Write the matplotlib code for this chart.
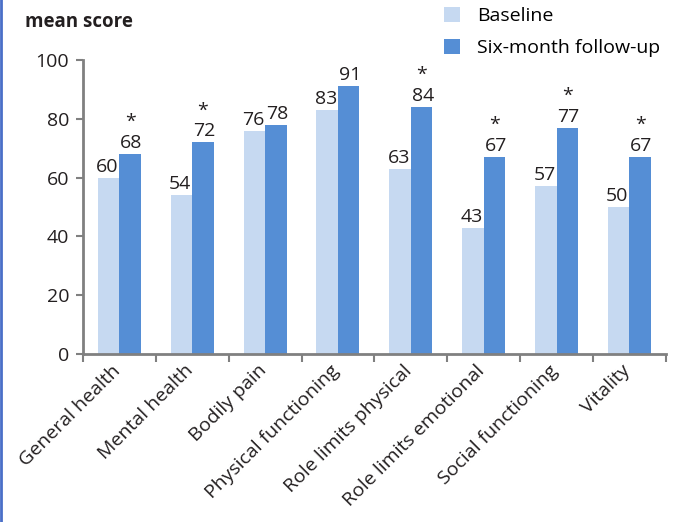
import numpy as np
import matplotlib.pyplot as plt
import matplotlib.transforms as mtrans
from matplotlib.lines import Line2D

categories = ["General health", "Mental health", "Bodily pain", "Physical functioning",
              "Role limits physical", "Role limits emotional", "Social functioning", "Vitality"]
baseline = [60, 54, 76, 83, 63, 43, 57, 50]
followup = [68, 72, 78, 91, 84, 67, 77, 67]
significant = [True, True, False, False, True, True, True, True]

light = "#c6d9f1"
dark = "#558ed5"
grey = "#808080"
txt = "#231f20"

plt.rcParams['font.family'] = ['Open Sans', 'DejaVu Sans']

fig = plt.figure(figsize=(6.78, 5.22), dpi=100)
ax = fig.add_axes([0.1224, 0.3218, 0.8596, 0.5632])

x = np.arange(len(categories))
w = 0.295
ax.bar(x - w / 2, baseline, w, color=light, label="Baseline")
ax.bar(x + w / 2, followup, w, color=dark, label="Six-month follow-up")

fs = 14
for i in range(len(categories)):
    ax.annotate(str(baseline[i]), (x[i] - w / 2, baseline[i]), xytext=(-1, 1.5),
                textcoords="offset points", ha="center", va="bottom", fontsize=fs, color=txt)
    ax.annotate(str(followup[i]), (x[i] + w / 2, followup[i]), xytext=(1, 1.5),
                textcoords="offset points", ha="center", va="bottom", fontsize=fs, color=txt)
    if significant[i]:
        ax.annotate("*", (x[i] + w / 2, followup[i]), xytext=(0, 16.5),
                    textcoords="offset points", ha="center", va="bottom", fontsize=fs, color=txt)

ax.set_xlim(-0.5, len(categories) - 0.5)
ax.set_ylim(0, 100)
ax.set_yticks(range(0, 101, 20))
ax.set_xticks(np.arange(len(categories) + 1) - 0.5, minor=False)
ax.set_xticklabels([])
ax.set_xticks(x, minor=True)
ax.set_xticklabels(categories, minor=True, rotation=45, ha="right", rotation_mode="anchor",
                   fontsize=fs, color=txt)
ax.tick_params(axis="x", which="minor", length=0, pad=9)
ax.tick_params(axis="x", which="major", length=6, width=1.5, color=grey)
ax.tick_params(axis="y", length=5, width=1.5, color=grey, labelsize=fs, labelcolor=txt, pad=5)

# nudge the rotated category labels so they end under the group centre
shift = mtrans.ScaledTranslation(-8 / 100, 5 / 100, fig.dpi_scale_trans)
for lab in ax.get_xticklabels(minor=True):
    lab.set_transform(lab.get_transform() + shift)

for s in ["top", "right"]:
    ax.spines[s].set_visible(False)
for s in ["left", "bottom"]:
    ax.spines[s].set_color(grey)
    ax.spines[s].set_linewidth(2)

fig.text(0.037, 0.958, "mean score", fontsize=13.5, fontweight="bold", color=txt, va="center")

ax.legend(loc="upper left", bbox_to_anchor=(0.59, 1.24), frameon=False, fontsize=fs,
          handlelength=0.8, handleheight=0.8, handletextpad=0.9, labelspacing=0.7)

fig.add_artist(Line2D([0.002, 0.002], [0, 1], transform=fig.transFigure, color="#4a6fc8", lw=2))

fig.savefig("out.png", dpi=100)
